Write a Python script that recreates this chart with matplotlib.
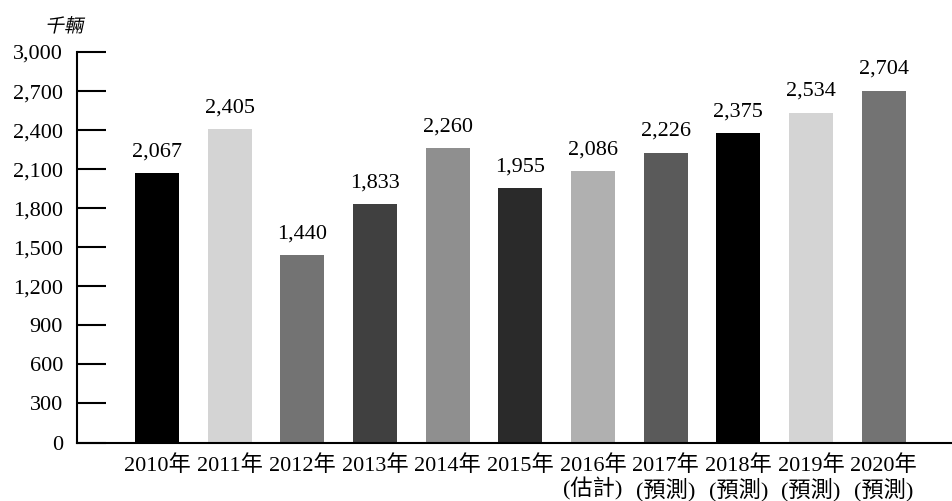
import matplotlib
matplotlib.use("Agg")
import matplotlib.pyplot as plt
from matplotlib.textpath import TextPath
from matplotlib.patches import PathPatch
from matplotlib.font_manager import FontProperties
from matplotlib.transforms import Affine2D

plt.rcParams['font.family'] = ['Liberation Serif', 'Noto Sans CJK TC']

years = ["2010年", "2011年", "2012年", "2013年", "2014年", "2015年",
         "2016年\n(估計)", "2017年\n(預測)", "2018年\n(預測)",
         "2019年\n(預測)", "2020年\n(預測)"]
values = [2067, 2405, 1440, 1833, 2260, 1955, 2086, 2226, 2375, 2534, 2704]
colors = ["#000000", "#d4d4d4", "#737373", "#404040", "#8f8f8f", "#2a2a2a",
          "#b0b0b0", "#5a5a5a", "#000000", "#d4d4d4", "#737373"]
yticks = [0, 300, 600, 900, 1200, 1500, 1800, 2100, 2400, 2700, 3000]
unit = "千輛"

W, H = 952, 501
fig = plt.figure(figsize=(W / 100, H / 100), dpi=100)
ax = fig.add_axes([77 / W, 1 - 442.5 / H, 1 - 77 / W, 390.5 / H])

x = list(range(len(values)))
ax.bar(x, values, width=0.605, color=colors, zorder=2)
for xi, v in zip(x, values):
    ax.text(xi, v + 90, f"{v:,}", ha="center", va="bottom", fontsize=16)

ax.set_xlim(-1.1, 10.94)
ax.set_ylim(0, 3000)
ax.set_yticks(yticks)
ax.set_yticklabels([f"{t:,}" for t in yticks], fontsize=16)
ax.set_xticks(x)
ax.set_xticklabels(years, fontsize=16, linespacing=1.1)
ax.tick_params(axis="y", direction="in", length=21, width=1.5, pad=10)
ax.tick_params(axis="x", length=0, pad=9)

for side in ("top", "right"):
    ax.spines[side].set_visible(False)
ax.spines["left"].set_linewidth(1.5)
ax.spines["bottom"].set_linewidth(1.5)

# Unit label, slanted like an oblique face (the CJK font has no italic)
fp = FontProperties(family="Noto Sans CJK TC")
tp = TextPath((0, 0), unit, size=19, prop=fp)
skew = Affine2D().skew_deg(12, 0).translate(45, H - 32)
fig.patches.append(PathPatch(skew.transform_path(tp), facecolor="black",
                             edgecolor="none", transform=None, figure=fig))

fig.savefig("out.png", dpi=100)
